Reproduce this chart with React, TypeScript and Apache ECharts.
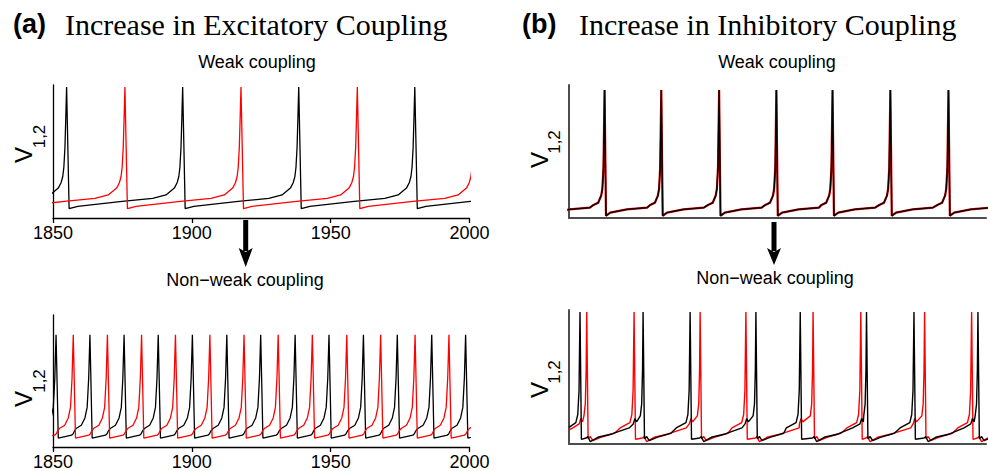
import React, { useEffect, useRef } from "react";
import * as echarts from "echarts";

// ---------- data ----------
const xTicks = [1850, 1900, 1950, 2000];

// (a) weak excitatory coupling: spike peak times
const aWeakBlackSpikes = [1813.1, 1854.9, 1896.7, 1938.5, 1980.3, 2022.1];
const aWeakRedSpikes = [1834.1, 1875.9, 1917.7, 1959.6, 2001.9];
// waveform around one spike: [offset from peak, normalized V]
const aWeakPre = [[-10.8, 0.148], [-6, 0.173], [-3, 0.225], [-2, 0.265], [-1.4, 0.31], [-1, 0.38], [-0.6, 0.53], [-0.3, 0.75], [0, 0.985]];
const aWeakPost = [[0.9, 0.07], [4, 0.088], [20, 0.125]];

// (a) non-weak excitatory coupling
const aStrongBlackSpikes = [1838.8, 1851.1, 1863.3, 1875.6, 1887.9, 1900.2, 1912.6, 1924.8, 1937.2, 1949.4, 1961.8, 1974.0, 1986.4, 1998.6, 2010.9];
const aStrongRedSpikes = [1845.0, 1857.3, 1869.6, 1881.9, 1894.1, 1906.5, 1918.8, 1931.1, 1943.4, 1955.8, 1968.0, 1980.4, 1992.6, 2004.9];
const aStrongPre = [[-5.0, 0.14], [-3.1, 0.165], [-1.8, 0.22], [-1.0, 0.3], [-0.45, 0.52], [0, 0.85]];
const aStrongPost = [[0.8, 0.068], [5.6, 0.09], [6.1, 0.098], [6.6, 0.12]];

// (b) weak inhibitory coupling (both cells nearly identical)
const bWeakSpikes = [1842.2, 1862.8, 1883.2, 1904.0, 1924.6, 1944.8, 1965.6, 1986.5, 2007.1];
const bWeakPre = [[-4.0, 0.098], [-2.3, 0.115], [-1.2, 0.17], [-0.8, 0.22], [-0.4, 0.38], [0, 0.962]];
const bWeakPost = [[0.5, 0.017], [2.05, 0.04], [8, 0.065], [15.3, 0.078]];

// (b) non-weak inhibitory coupling: spikes come in pairs (same index = same pair)
const bStrongBlackSpikes = [1853.96, 1876.65, 1893.57, 1917.23, 1933.18, 1957.02, 1974.09, 1997.1];
const bStrongRedSpikes = [1856.37, 1873.41, 1897.17, 1913.63, 1937.8, 1954.97, 1977.91, 1994.83];
const bStrongBlackStart = [1850, 0.124];
const bStrongRedStart = [1850, 0.106];
// shapes: [anchor (0 = own spike, 1 = partner spike), offset, V]
const bLeadShape = [[0, -5, 0.12], [0, -1.5, 0.16], [0, -0.8, 0.22], [0, -0.35, 0.4], [0, 0, 0.985], [0, 0.5, 0.035], [1, -0.2, 0.045], [1, 0.4, 0.055], [1, 1.3, 0.017], [1, 4, 0.05], [1, 9, 0.075]];
const bFollowShape = [[0, -5, 0.12], [1, -0.3, 0.15], [1, 0.3, 0.19], [1, 0.9, 0.165], [0, -1, 0.21], [0, -0.5, 0.3], [0, -0.2, 0.55], [0, 0, 0.985], [0, 0.5, 0.04], [0, 1.3, 0.055], [0, 2.2, 0.025], [0, 5, 0.05], [0, 10, 0.08]];

// ---------- builders ----------
function buildTrace(spikes: number[], pre: number[][], post: number[][]) {
  const pts: number[][] = [];
  spikes.forEach((t) => {
    pre.forEach(([o, v]) => pts.push([t + o, v]));
    post.forEach(([o, v]) => pts.push([t + o, v]));
  });
  return pts.sort((a, b) => a[0] - b[0]);
}

function buildPairTrace(own: number[], partner: number[], start: number[]) {
  const pts: number[][] = [];
  own.forEach((t, i) => {
    const p = partner[i];
    const shape = p > t ? bLeadShape : bFollowShape;
    shape.forEach(([anc, o, v]) => pts.push([(anc === 0 ? t : p) + o, v]));
  });
  const body = pts.filter((q) => q[0] > start[0]).sort((a, b) => a[0] - b[0]);
  return [start, ...body];
}

const SANS = "Liberation Sans, Arial, Helvetica, sans-serif";
const SERIF = "Liberation Serif, Times New Roman, serif";

const grids = [
  { left: 53, top: 85, width: 416.5, height: 133 },
  { left: 53, top: 315, width: 416.5, height: 133 },
  { left: 569, top: 85, width: 417, height: 133 },
  { left: 569, top: 310, width: 417, height: 134 },
];

function makeX(i: number) {
  const isA = i < 2;
  return {
    type: "value",
    gridIndex: i,
    min: xTicks[0],
    max: xTicks[xTicks.length - 1],
    interval: 50,
    axisLine: { show: true, onZero: false, lineStyle: { color: isA ? "#000" : "#4d4d4d", width: isA ? 1.3 : 2 } },
    axisTick: { show: isA, length: 5, lineStyle: { color: "#000", width: 1.3 } },
    axisLabel: { show: isA, fontSize: 18, fontFamily: SANS, color: "#000", margin: 6, formatter: (v: number) => String(v) },
    splitLine: { show: false },
  };
}
function makeY(i: number) {
  const isA = i < 2;
  return {
    type: "value",
    gridIndex: i,
    min: 0,
    max: 1,
    axisLine: { show: true, onZero: false, lineStyle: { color: isA ? "#000" : "#4d4d4d", width: isA ? 1.3 : 2 } },
    axisTick: { show: false },
    axisLabel: { show: false },
    splitLine: { show: false },
  };
}

function line(data: number[][], idx: number, color: string, width: number, z: number) {
  return {
    type: "line",
    xAxisIndex: idx,
    yAxisIndex: idx,
    data,
    showSymbol: false,
    symbol: "none",
    smooth: false,
    clip: true,
    silent: true,
    z,
    lineStyle: { color, width },
  };
}

function vLabel(cx: number, cy: number, sx: number, sy: number, fs: number, sfs: number) {
  return [
    { type: "text", x: cx, y: cy, rotation: Math.PI / 2, style: { text: "V", fontSize: fs, fontFamily: SANS, fill: "#000", align: "center", verticalAlign: "middle" } },
    { type: "text", x: sx, y: sy, rotation: Math.PI / 2, style: { text: "1,2", fontSize: sfs, fontFamily: SANS, fill: "#000", align: "center", verticalAlign: "middle" } },
  ];
}

function arrow(x: number, y0: number, yHead: number, yTip: number) {
  return [
    { type: "rect", shape: { x: x - 2.5, y: y0, width: 5, height: yHead - y0 + 3 }, style: { fill: "#000" } },
    { type: "polygon", shape: { points: [[x - 7, yHead], [x, yHead + 4], [x + 7, yHead], [x, yTip]] }, style: { fill: "#000" } },
  ];
}

function textAt(text: string, x: number, y: number, fs: number, family: string, weight: string, align: string) {
  return { type: "text", x, y, style: { text, fontSize: fs, fontFamily: family, fontWeight: weight, fill: "#000", align, verticalAlign: "middle" } };
}

export default function App() {
  const ref = useRef<HTMLDivElement>(null);
  useEffect(() => {
    if (!ref.current) return;
    const chart = echarts.init(ref.current, null, { renderer: "svg" });
    const option = {
      animation: false,
      backgroundColor: "#fff",
      grid: grids,
      xAxis: [0, 1, 2, 3].map(makeX),
      yAxis: [0, 1, 2, 3].map(makeY),
      series: [
        line(buildTrace(aWeakBlackSpikes, aWeakPre, aWeakPost), 0, "#000", 1.3, 2),
        line(buildTrace(aWeakRedSpikes, aWeakPre, aWeakPost), 0, "#ff0000", 1.3, 3),
        line(buildTrace(aStrongBlackSpikes, aStrongPre, aStrongPost), 1, "#000", 1.3, 2),
        line(buildTrace(aStrongRedSpikes, aStrongPre, aStrongPost), 1, "#ff0000", 1.3, 3),
        line(buildTrace(bWeakSpikes, bWeakPre, bWeakPost), 2, "#cc0000", 2.2, 2),
        line(buildTrace(bWeakSpikes, bWeakPre, bWeakPost), 2, "#000", 1.3, 3),
        line(buildPairTrace(bStrongRedSpikes, bStrongBlackSpikes, bStrongRedStart), 3, "#ff0000", 1.4, 2),
        line(buildPairTrace(bStrongBlackSpikes, bStrongRedSpikes, bStrongBlackStart), 3, "#000", 1.4, 3),
      ],
      graphic: [
        textAt("(a)", 13, 24, 27, SANS, "bold", "left"),
        textAt("Increase in Excitatory Coupling", 65, 24, 30, SERIF, "normal", "left"),
        textAt("(b)", 522, 24, 27, SANS, "bold", "left"),
        textAt("Increase in Inhibitory Coupling", 579, 24, 30, SERIF, "normal", "left"),
        textAt("Weak coupling", 257, 62, 18, SANS, "normal", "center"),
        textAt("Weak coupling", 777, 62, 18, SANS, "normal", "center"),
        textAt("Non\u2212weak coupling", 245, 280, 18, SANS, "normal", "center"),
        textAt("Non\u2212weak coupling", 775, 278, 18, SANS, "normal", "center"),
        ...vLabel(23.5, 155, 39, 136.5, 24, 17),
        ...vLabel(23.5, 399, 39, 381, 24, 17),
        ...vLabel(539, 160, 554.5, 142, 24, 17),
        ...vLabel(539, 390, 554.5, 372, 24, 17),
        ...arrow(245.7, 220, 248, 267),
        ...arrow(774, 222, 248, 265),
      ],
    };
    chart.setOption(option as any);
    return () => chart.dispose();
  }, []);
  return <div ref={ref} style={{ position: "absolute", left: 0, top: 0, width: 988, height: 471, background: "#fff" }} />;
}
